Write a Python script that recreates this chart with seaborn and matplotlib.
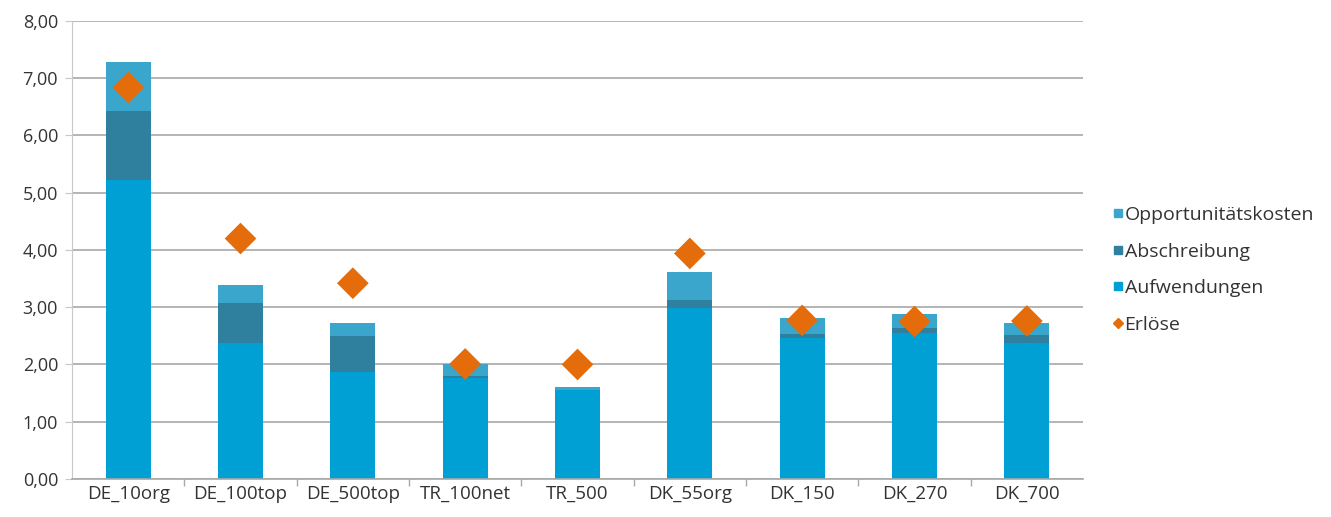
import matplotlib
matplotlib.use('Agg')
import matplotlib.pyplot as plt
from matplotlib.lines import Line2D
from matplotlib.ticker import FixedLocator, FuncFormatter
import numpy as np
import pandas as pd
import seaborn as sns

# Werte
varianten = ['DE_10org', 'DE_100top', 'DE_500top', 'TR_100net', 'TR_500',
             'DK_55org', 'DK_150', 'DK_270', 'DK_700']
aufwendungen = [5.23, 2.37, 1.87, 1.76, 1.55, 2.98, 2.46, 2.55, 2.37]
abschreibung = [1.19, 0.70, 0.63, 0.04, 0.01, 0.15, 0.08, 0.08, 0.15]
opportunitaetskosten = [0.87, 0.32, 0.23, 0.21, 0.05, 0.48, 0.28, 0.26, 0.21]
erloese = [6.84, 4.20, 3.42, 2.01, 2.00, 3.94, 2.77, 2.75, 2.76]

c_aufw = '#009fd4'
c_abs = '#2f7f9e'
c_opp = '#3aa6cc'
c_erl = '#e46c0a'

df = pd.DataFrame({'Variante': varianten,
                   'Aufwendungen': aufwendungen,
                   'Abschreibung': abschreibung,
                   'Opportunitätskosten': opportunitaetskosten,
                   'Erlöse': erloese})
# kumulierte Werte für das Stapeln
df['stufe1'] = df['Aufwendungen']
df['stufe2'] = df['stufe1'] + df['Abschreibung']
df['stufe3'] = df['stufe2'] + df['Opportunitätskosten']

sns.set_style('white')
plt.rcParams['font.family'] = ['Open Sans', 'DejaVu Sans']

fig = plt.figure(figsize=(13.31, 5.17), dpi=100)
ax = fig.add_axes([0.0541, 0.0735, 0.7596, 0.8859])

sns.barplot(data=df, x='Variante', y='stufe3', color=c_opp, width=0.4,
            saturation=1, ax=ax, zorder=2, linewidth=0)
sns.barplot(data=df, x='Variante', y='stufe2', color=c_abs, width=0.4,
            saturation=1, ax=ax, zorder=2, linewidth=0)
sns.barplot(data=df, x='Variante', y='stufe1', color=c_aufw, width=0.4,
            saturation=1, ax=ax, zorder=2, linewidth=0)
sns.scatterplot(data=df, x='Variante', y='Erlöse', marker='D', s=260,
                color=c_erl, edgecolor='none', ax=ax, zorder=3)

ax.set_xlim(-0.5, len(varianten) - 0.5)
ax.set_ylim(0, 8)
ax.set_yticks(np.arange(0, 9, 1))
ax.yaxis.set_major_formatter(FuncFormatter(lambda v, p: f'{v:.2f}'.replace('.', ',')))
ax.yaxis.grid(True, color='#a8a8a8', linewidth=1.2, zorder=0)
ax.set_axisbelow(True)
ax.set_xlabel('')
ax.set_ylabel('')

for s in ['top', 'right']:
    ax.spines[s].set_visible(False)
ax.spines['left'].set_color('#c8c8c8')
ax.spines['bottom'].set_color('#a8a8a8')
ax.spines['bottom'].set_linewidth(1.2)

# kleine Striche zwischen den Kategorien
ax.xaxis.set_minor_locator(FixedLocator(np.arange(0.5, len(varianten) - 0.5, 1)))
ax.tick_params(axis='x', which='major', length=0, pad=4, labelsize=13.5, labelcolor='#333333')
ax.tick_params(axis='x', which='minor', length=5, color='#a8a8a8', width=1, direction='out', bottom=True)
ax.tick_params(axis='y', length=5, color='#c8c8c8', direction='out', left=True,
               labelsize=13, labelcolor='#333333', pad=5)

handles = [
    Line2D([], [], marker='s', linestyle='', color=c_opp, markersize=6),
    Line2D([], [], marker='s', linestyle='', color=c_abs, markersize=6),
    Line2D([], [], marker='s', linestyle='', color=c_aufw, markersize=6),
    Line2D([], [], marker='D', linestyle='', color=c_erl, markersize=5),
]
labels = ['Opportunitätskosten', 'Abschreibung', 'Aufwendungen', 'Erlöse']
fig.legend(handles, labels, loc='center left', bbox_to_anchor=(0.823, 0.478),
           frameon=False, fontsize=14, handlelength=0.5, handletextpad=0.1,
           labelspacing=0.95, labelcolor='#333333')

fig.savefig('out.png', dpi=100)
